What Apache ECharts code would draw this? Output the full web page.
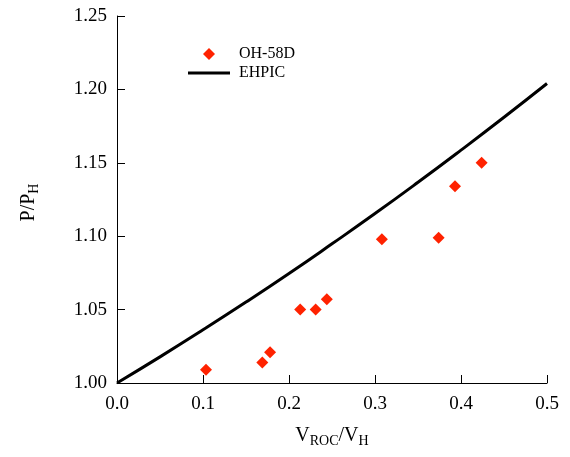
<!DOCTYPE html>
<html>
<head>
<meta charset="utf-8">
<script src="https://cdn.jsdelivr.net/npm/echarts@6/dist/echarts.min.js"></script>
<style>
  html, body { margin: 0; padding: 0; background: #fff; }
  #chart { width: 570px; height: 457px; }
</style>
</head>
<body>
<div id="chart"></div>
<script>
// measured points (OH-58D)
const flightX = [0.1035, 0.169, 0.178, 0.213, 0.231, 0.244, 0.308, 0.374, 0.393, 0.424]
const flightY = [1.009, 1.014, 1.021, 1.050, 1.050, 1.057, 1.098, 1.099, 1.134, 1.150]

// EHPIC prediction
const modelX = [0, 0.05, 0.1, 0.15, 0.2, 0.25, 0.3, 0.35, 0.4, 0.45, 0.5]
const modelY = [1.000, 1.0178, 1.0362, 1.0551, 1.0746, 1.0948, 1.1154, 1.1367, 1.1586, 1.1810, 1.2040]

const serif = '"Liberation Serif", "Times New Roman", serif'
const legendText = { fontFamily: serif, fontSize: 16, color: '#000' }
const nameRich = {
  m: { fontFamily: serif, fontSize: 20, color: '#000', lineHeight: 22, verticalAlign: 'top' },
  s: { fontFamily: serif, fontSize: 14, color: '#000', lineHeight: 14, verticalAlign: 'bottom', padding: [14, 0, 0, 0] }
}

const chart = echarts.init(document.getElementById('chart'))

chart.setOption({
  animation: false,
  grid: {
    left: 117,
    right: 23,
    top: 16,
    bottom: 74
  },
  legend: [
    {
      left: 198,
      top: 41,
      itemWidth: 12,
      itemHeight: 12,
      icon: 'diamond',
      textStyle: Object.assign({ padding: [1, 0, 0, 19] }, legendText),
      data: ['OH-58D']
    },
    {
      left: 183,
      top: 60,
      itemWidth: 42,
      itemHeight: 3,
      icon: 'rect',
      textStyle: Object.assign({ padding: [1, 0, 0, 4] }, legendText),
      data: ['EHPIC']
    }
  ],
  xAxis: {
    type: 'value',
    min: 0,
    max: 0.5,
    interval: 0.1,
    axisLine: { lineStyle: { color: '#000', width: 1 } },
    axisTick: { inside: true, length: 8, lineStyle: { color: '#000' } },
    splitLine: { show: false },
    axisLabel: {
      color: '#000',
      fontFamily: serif,
      fontSize: 19,
      margin: 12,
      formatter: v => v.toFixed(1)
    },
    name: '{m|V}{s|ROC}{m|/V}{s|H}',
    nameLocation: 'middle',
    nameGap: 43,
    nameTextStyle: { rich: nameRich }
  },
  yAxis: {
    type: 'value',
    min: 1.0,
    max: 1.25,
    interval: 0.05,
    axisLine: { show: true, lineStyle: { color: '#000', width: 1 } },
    axisTick: { show: true, inside: true, length: 8, lineStyle: { color: '#000' } },
    splitLine: { show: false },
    axisLabel: {
      color: '#000',
      fontFamily: serif,
      fontSize: 19,
      margin: 10,
      formatter: v => v.toFixed(2)
    },
    name: '{m|P/P}{s|H}',
    nameLocation: 'middle',
    nameGap: 76,
    nameTextStyle: { rich: nameRich, padding: [0, 6, 0, 0] }
  },
  series: [
    {
      name: 'EHPIC',
      type: 'line',
      smooth: true,
      symbol: 'none',
      lineStyle: { color: '#000', width: 3 },
      itemStyle: { color: '#000' },
      data: modelX.map((x, i) => [x, modelY[i]]),
      z: 2
    },
    {
      name: 'OH-58D',
      type: 'scatter',
      symbol: 'diamond',
      symbolSize: 12,
      itemStyle: { color: '#ff2200', opacity: 1 },
      data: flightX.map((x, i) => [x, flightY[i]]),
      z: 3
    }
  ]
})
</script>
</body>
</html>
